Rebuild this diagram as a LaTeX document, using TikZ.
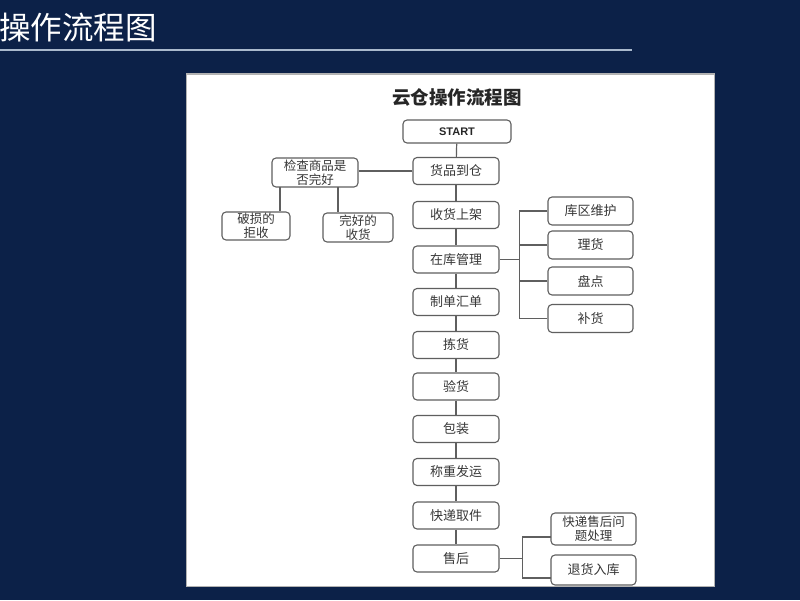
\documentclass[tikz,border=0pt]{standalone}
\usepackage{fontspec}
\setmainfont{Liberation Sans}
\newfontfamily\cjk{Noto Sans CJK SC}
\usetikzlibrary{positioning}
\definecolor{navy}{RGB}{12,33,72}
\definecolor{boxline}{RGB}{95,95,95}
\definecolor{boxtext}{RGB}{55,55,55}
\definecolor{rulecol}{RGB}{170,185,205}
\tikzset{
  flowbox/.style={draw=boxline, line width=1.1pt, rounded corners=4pt, fill=white,
    minimum width=86pt, minimum height=27pt, inner sep=1pt, align=center,
    text=boxtext, font=\cjk\fontsize{13}{15}\selectfont},
  sidebox/.style={flowbox, minimum width=85pt, minimum height=28pt},
  link/.style={draw=boxline, line width=1.2pt},
}
\begin{document}
\begin{tikzpicture}[x=1pt,y=-1pt]
\useasboundingbox (0,0) rectangle (800,600);
\fill[navy] (0,0) rectangle (800,600);
% header
\node[anchor=east, text=white, font=\cjk\fontsize{31.5}{33}\selectfont, inner sep=0] (maintitle) at (157,28) {操作流程图};
\draw[rulecol, line width=1.6pt] (0,50) -- (632,50);
% panel
\fill[gray!60] (186,73) rectangle (715,587);
\fill[white] (187,75) rectangle (714,586);
\node[font=\cjk\bfseries\fontsize{18.5}{20}\selectfont, text=black!85] (ptitle) at (457,97) {云仓操作流程图};
% main column
\node[flowbox, minimum width=108pt, minimum height=23pt, font=\bfseries\fontsize{11}{13}\selectfont, text=black!85] (start) at (457,131.5) {START};
\node[flowbox] (hp) at (456,171) {货品到仓};
\node[flowbox] (sh) at (456,215) {收货上架};
\node[flowbox] (zk) at (456,259.5) {在库管理};
\node[flowbox] (zd) at (456,302) {制单汇单};
\node[flowbox] (jh) at (456,345) {拣货};
\node[flowbox] (yh) at (456,386.5) {验货};
\node[flowbox] (bz) at (456,429) {包装};
\node[flowbox] (cz) at (456,472) {称重发运};
\node[flowbox] (kd) at (456,515.5) {快递取件};
\node[flowbox] (shh) at (456,558.5) {售后};
% left branch
\node[flowbox, minimum width=86pt, minimum height=29pt, font=\cjk\fontsize{12.5}{14}\selectfont] (jc) at (315,172.5) {检查商品是\\否完好};
\node[flowbox, minimum width=68pt, minimum height=28pt, font=\cjk\fontsize{12.5}{14}\selectfont] (ps) at (256,226) {破损的\\拒收};
\node[flowbox, minimum width=70pt, minimum height=29pt, font=\cjk\fontsize{12.5}{14}\selectfont] (wh) at (358,227.5) {完好的\\收货};
% right branch 1
\node[sidebox] (kq) at (590.5,211) {库区维护};
\node[sidebox] (lh) at (590.5,245) {理货};
\node[sidebox] (pd) at (590.5,281) {盘点};
\node[sidebox] (bh) at (590.5,318.5) {补货};
% right branch 2
\node[sidebox, minimum height=32pt, font=\cjk\fontsize{12.5}{14}\selectfont] (kdw) at (593.5,529) {快递售后问\\题处理};
\node[sidebox, minimum height=30pt] (th) at (593.5,570) {退货入库};
% connectors main column
\draw[link] (start) -- (hp);
\draw[link] (hp) -- (sh);
\draw[link] (sh) -- (zk);
\draw[link] (zk) -- (zd);
\draw[link] (zd) -- (jh);
\draw[link] (jh) -- (yh);
\draw[link] (yh) -- (bz);
\draw[link] (bz) -- (cz);
\draw[link] (cz) -- (kd);
\draw[link] (kd) -- (shh);
% left connectors
\draw[link] (hp.west) -- (jc.east |- hp.west);
\coordinate (jcL) at (280,187);
\coordinate (jcR) at (338,187);
\draw[link] (jcL) -- (jcL |- ps.north);
\draw[link] (jcR) -- (jcR |- wh.north);
% bracket 1
\draw[link] (zk.east) -- ++(20,0) coordinate (bA);
\draw[link] (kq.west) -| (bA);
\draw[link] (lh.west) -- (lh.west -| bA);
\draw[link] (pd.west) -- (pd.west -| bA);
\draw[link] (bh.west) -| (bA);
% bracket 2
\draw[link] (shh.east) -- ++(23,0) coordinate (bB);
\coordinate (bBt) at (551,537);
\coordinate (bBb) at (551,578);
\draw[link] (bBt) -| (bB);
\draw[link] (bBb) -| (bB);
\end{tikzpicture}
\end{document}
